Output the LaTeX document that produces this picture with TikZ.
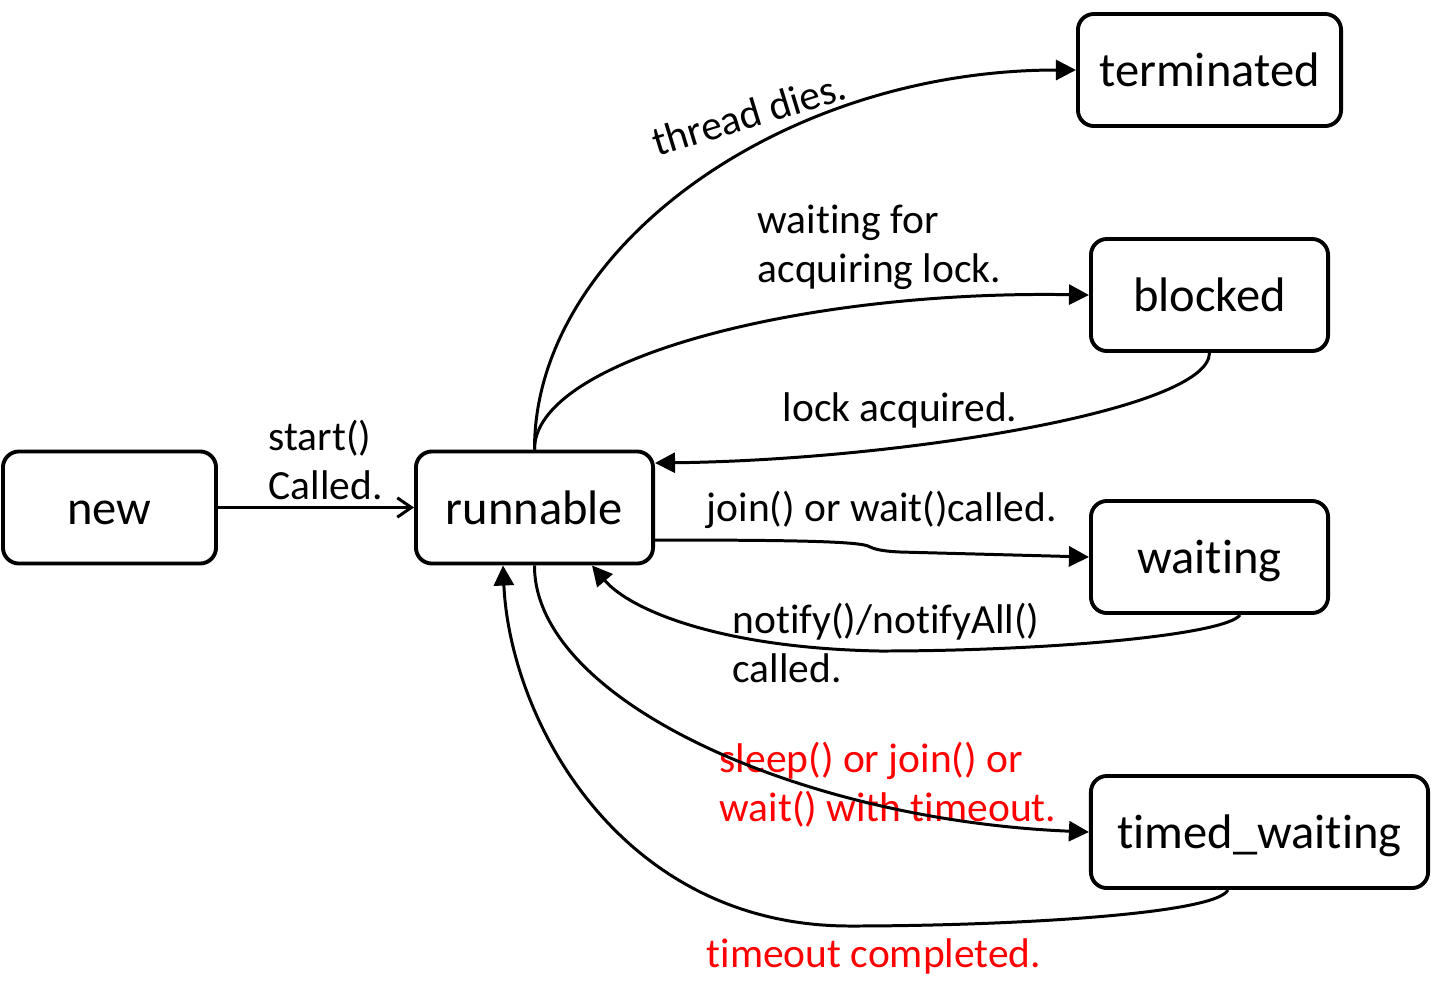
\documentclass[tikz,border=0pt]{standalone}
\usepackage{fontspec}
\setmainfont{Carlito}[Ligatures={NoCommon,NoContextual}]
\usetikzlibrary{arrows.meta}

\begin{document}
\begin{tikzpicture}[x=0.01cm,y=-0.01cm,
            state/.style={draw, line width=1.1pt, rounded corners=1.6mm,
                minimum height=1.12cm, inner sep=0pt, text height=9.5pt, text depth=0pt,
                font=\fontsize{13.8}{16}\selectfont},
            trans/.style={line width=0.85pt, -{Triangle[length=5.7pt,width=5.7pt]}},
            lbl/.style={align=left, anchor=west, inner sep=0pt,
                font=\fontsize{11.8}{14}\selectfont}]
            \useasboundingbox (0,0) rectangle (1436,990);

            % states
            \node[state, minimum width=2.13cm] (new) at (109.5,507.5) {new};
            \node[state, minimum width=2.37cm] (run) at (534.5,507.5) {runnable};
            \node[state, minimum width=2.63cm] (term) at (1209.5,70) {terminated};
            \node[state, minimum width=2.37cm] (blk) at (1209.5,295) {blocked};
            \node[state, minimum width=2.37cm] (wait) at (1209.5,557) {waiting};
            \node[state, minimum width=3.37cm] (tw) at (1259.5,832) {timed\_waiting};

            % labels
            \node[lbl] (lstart) at (268,460) {start()\\Called.};
            \node[lbl, anchor=center, rotate=17] (ldies) at (749,114) {thread dies.};
            \node[lbl] (llockw) at (757,247) {waiting for\\acquiring lock.};
            \node[lbl] (llocka) at (782,410) {lock acquired.};
            \node[lbl] (ljoin) at (706,510) {join() or wait()called.};
            \node[lbl] (lnotify) at (732,643) {notify()/notifyAll()\\called.};
            \node[lbl, text=red] (lsleep) at (719,785) {sleep() or join() or\\wait() with timeout.};
            \node[lbl, text=red] (ltimeout) at (706,956) {timeout completed.};

            % transitions
            \draw[line width=0.85pt, -{Straight Barb[length=4pt,width=5.5pt]}] (new) -- (run);
            \draw[trans] (run.north) .. controls (534,250) and (780,70) .. (term.west);
            \draw[trans] (run.north) .. controls (534,360) and (800,290) .. (blk.west);
            \draw[trans] (blk.south) .. controls (1209,410) and (900,460) .. ([yshift=4.45mm]run.east);
            \draw[trans] ([yshift=-3.25mm]run.east) .. controls (780,540) and (855,541) .. (868,546)
                .. controls (874,549) and (880,551) .. (900,552) -- (wait.west);
            \draw[trans] ([xshift=3.05mm]wait.south) .. controls (1225,635) and (1050,651) .. (880,651)
                .. controls (720,648) and (630,610) .. ([xshift=5.75mm]run.south);
            \draw[trans] (run.south) .. controls (534,700) and (800,820) .. (tw.west);
            \draw[trans] ([xshift=-3.15mm]tw.south) .. controls (1215,915) and (1000,926) .. (850,926)
                .. controls (620,926) and (510,720) .. ([xshift=-3.15mm]run.south);
        \end{tikzpicture}
\end{document}
